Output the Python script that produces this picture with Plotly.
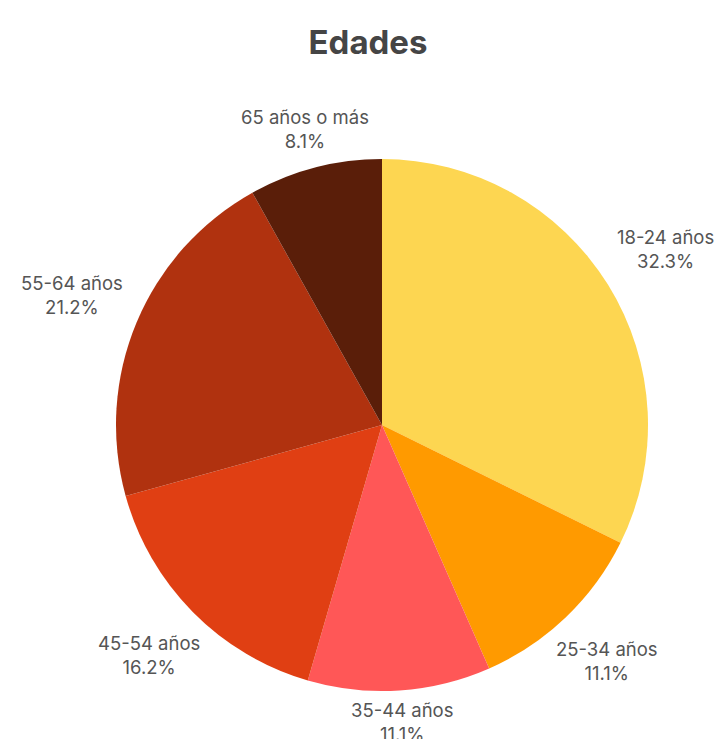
import math
import plotly.graph_objects as go

labels = ["18-24 años", "25-34 años", "35-44 años", "45-54 años", "55-64 años", "65 años o más"]
values = [32.3, 11.1, 11.1, 16.2, 21.2, 8.1]
colors = ["#FDD651", "#FF9A00", "#FF5757", "#E03F13", "#B0320F", "#5A1E09"]

W, H = 723, 739
CX, CY, R = 374, 417, 266  # pie centre and radius in pixels

fig = go.Figure(go.Pie(
    labels=labels,
    values=values,
    sort=False,
    direction="clockwise",
    rotation=0,
    marker=dict(colors=colors, line=dict(width=0)),
    textinfo="none",
    domain=dict(x=[(CX - R) / W, (CX + R) / W], y=[(H - CY - R) / H, (H - CY + R) / H]),
    hoverinfo="label+percent",
    showlegend=False,
))

# outside labels placed along each slice's mid-angle
total = sum(values)
cum = 0.0
annotations = []
for lab, v in zip(labels, values):
    mid = (cum + v / 2) / total * 2 * math.pi
    cum += v
    dist = 295 + 45 * abs(math.sin(mid))
    px = CX + dist * math.sin(mid)
    py = CY - dist * math.cos(mid)
    annotations.append(dict(
        x=px / W, y=(H - py) / H, xref="paper", yref="paper",
        text=f"{lab}<br>{v / total * 100:.1f}%",
        showarrow=False, xanchor="center", yanchor="middle", align="center",
        font=dict(family="Inter, Lato, sans-serif", size=18.5, color="#555555"),
    ))

fig.update_layout(
    width=W, height=H,
    margin=dict(l=0, r=0, t=0, b=0),
    paper_bgcolor="white",
    plot_bgcolor="white",
    annotations=annotations,
    title=dict(text="<b>Edades</b>", x=0.498, xanchor="center", y=1 - 34 / H, yanchor="middle",
               font=dict(family="Inter, Lato, sans-serif", size=33, color="#454545")),
)

fig.write_html("out.html")
